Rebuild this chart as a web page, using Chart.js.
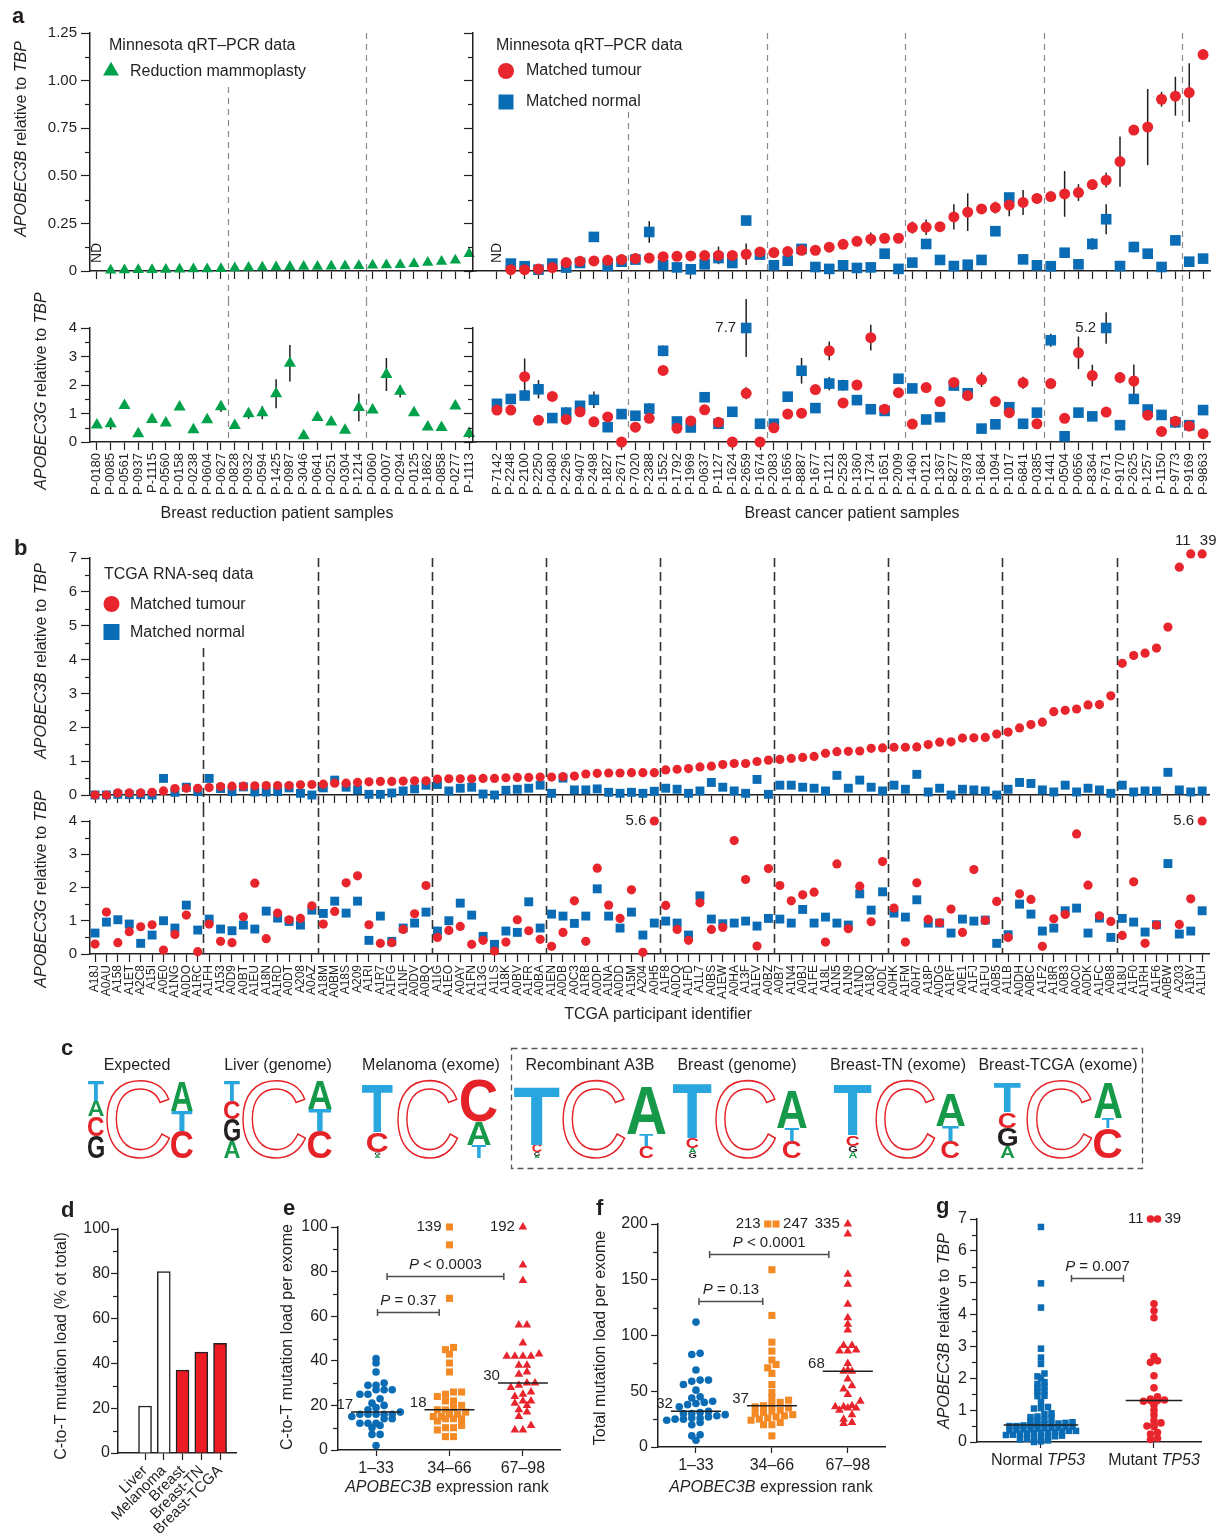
<!DOCTYPE html>
<html>
<head>
<meta charset="UTF-8">
<title>APOBEC3B expression and mutation load in breast cancer</title>
<style>
body { margin: 0; background: #fff; }
#page { position: relative; width: 1220px; height: 1539px; overflow: hidden; }
#page canvas { position: absolute; left: 0; top: 0; }
</style>
<script src="https://cdn.jsdelivr.net/npm/chart.js@4.4.1/dist/chart.umd.min.js"></script>
</head>
<body>
<div id="page">
<canvas id="aTopL" width="1220" height="1539"></canvas>
<canvas id="aTopR" width="1220" height="1539"></canvas>
<canvas id="aBotL" width="1220" height="1539"></canvas>
<canvas id="aBotR" width="1220" height="1539"></canvas>
<canvas id="bTop" width="1220" height="1539"></canvas>
<canvas id="bBot" width="1220" height="1539"></canvas>
<canvas id="cLogo" width="1220" height="1539"></canvas>
<canvas id="dBar" width="1220" height="1539"></canvas>
<canvas id="eDot" width="1220" height="1539"></canvas>
<canvas id="fDot" width="1220" height="1539"></canvas>
<canvas id="gDot" width="1220" height="1539"></canvas>
</div>
<script>
// ---- a: Minnesota qRT-PCR, reduction mammoplasty ----
const reductionIds = ["P-0180","P-0085","P-0561","P-0937","P-1115","P-0560","P-0158","P-0238","P-0604","P-0627",
  "P-0828","P-0932","P-0594","P-1425","P-0987","P-3046","P-0641","P-0251","P-0304","P-1214",
  "P-0060","P-0007","P-0294","P-0125","P-1862","P-0858","P-0277","P-1113"];
const reductionA3B = [null, 0.004, 0.005, 0.006, 0.007, 0.008, 0.009, 0.010, 0.011, 0.012,
  0.016, 0.018, 0.020, 0.021, 0.022, 0.023, 0.024, 0.025, 0.026, 0.027,
  0.030, 0.032, 0.033, 0.038, 0.044, 0.050, 0.056, 0.090];
const reductionA3G = [0.6, 0.64, 1.28, 0.29, 0.79, 0.67, 1.23, 0.43, 0.78, 1.24,
  0.58, 0.99, 1.03, 1.69, 2.76, 0.22, 0.86, 0.7, 0.41, 1.21,
  1.12, 2.37, 1.78, 1.03, 0.53, 0.51, 1.26, 0.3];
const reductionA3GErr = [0.05, 0.2, 0.08, 0, 0.06, 0, 0.06, 0, 0, 0.19,
  0, 0.18, 0.23, 0.51, 0.64, 0, 0.08, 0, 0, 0.48,
  0, 0.58, 0.22, 0, 0, 0, 0.08, 0.17];

// ---- a: Minnesota qRT-PCR, matched tumour / normal ----
const cancerIds = ["P-7142","P-2248","P-2100","P-2250","P-0480","P-2296","P-9407","P-2498","P-1827","P-2671",
  "P-7020","P-2388","P-1552","P-1792","P-1969","P-0637","P-1127","P-1624","P-2659","P-1674",
  "P-2083","P-1656","P-8887","P-1677","P-1121","P-2528","P-1360","P-1734","P-1651","P-2009",
  "P-1460","P-0121","P-1367","P-8277","P-9378","P-1684","P-1094","P-1017","P-6841","P-0385",
  "P-1441","P-0504","P-0656","P-8364","P-7671","P-9170","P-2625","P-1257","P-1150","P-9773",
  "P-9169","P-9863"];
const tumourA3B = [null, 0.007, 0.007, 0.01, 0.018, 0.044, 0.051, 0.053, 0.056, 0.06,
  0.065, 0.068, 0.075, 0.077, 0.079, 0.081, 0.082, 0.082, 0.088, 0.1,
  0.097, 0.102, 0.109, 0.109, 0.125, 0.14, 0.156, 0.167, 0.172, 0.172,
  0.228, 0.23, 0.233, 0.284, 0.309, 0.326, 0.333, 0.346, 0.36, 0.381,
  0.391, 0.405, 0.412, 0.454, 0.477, 0.575, 0.74, 0.756, 0.902, 0.918,
  0.937, 1.137];
const tumourA3BErr = [0, 0, 0, 0, 0, 0, 0, 0, 0, 0,
  0, 0, 0, 0, 0, 0, 0.046, 0, 0.057, 0,
  0, 0, 0, 0, 0, 0, 0, 0.035, 0, 0,
  0.032, 0.041, 0, 0.066, 0.099, 0, 0.031, 0.059, 0.066, 0.026,
  0, 0.12, 0.044, 0, 0.039, 0.132, 0, 0.2, 0.039, 0.102,
  0.154, 0];
const normalA3B = [null, 0.039, 0.025, 0.007, 0.039, 0.018, 0.042, 0.179, 0.026, 0.049,
  0.06, 0.205, 0.03, 0.019, 0.009, 0.035, 0.068, 0.042, 0.265, 0.086,
  0.03, 0.054, 0.116, 0.021, 0.011, 0.03, 0.016, 0.019, 0.091, 0.011,
  0.044, 0.142, 0.058, 0.026, 0.033, 0.058, 0.209, 0.386, 0.061, 0.03,
  0.025, 0.096, 0.035, 0.142, 0.272, 0.026, 0.126, 0.091, 0.021, 0.161,
  0.049, 0.065];
const normalA3BErr = [0, 0, 0, 0, 0, 0, 0, 0, 0, 0,
  0, 0.057, 0, 0, 0, 0, 0, 0, 0, 0,
  0, 0, 0, 0, 0, 0, 0, 0, 0, 0,
  0, 0, 0, 0, 0, 0, 0.019, 0, 0, 0,
  0, 0, 0, 0.031, 0.079, 0, 0.027, 0, 0, 0,
  0, 0];
const tumourA3G = [1.12, 1.12, 2.29, 0.76, 1.6, 0.79, 1.06, 0.71, 0.88, 0.0,
  0.52, 0.83, 2.51, 0.48, 0.74, 1.13, 0.69, 0.0, 1.71, 0.0,
  0.5, 0.98, 1.01, 1.84, 3.2, 1.37, 2.0, 3.66, 1.15, 1.73,
  0.63, 1.91, 1.42, 2.09, 1.63, 2.19, 1.42, 1.03, 2.08, 0.64,
  2.05, 0.83, 3.13, 2.33, 1.05, 2.26, 2.14, 0.94, 0.37, 0.73,
  0.56, 0.29];
const tumourA3GErr = [0, 0.12, 0.64, 0, 0, 0, 0, 0, 0, 0,
  0, 0, 0, 0, 0, 0, 0, 0, 0.21, 0,
  0, 0, 0, 0, 0.33, 0, 0, 0.45, 0, 0,
  0, 0, 0, 0.15, 0, 0.26, 0.17, 0, 0.21, 0,
  0, 0, 0.57, 0.38, 0, 0.2, 0.58, 0, 0, 0,
  0, 0];
const normalA3G = [1.34, 1.51, 1.63, 1.85, 0.84, 1.03, 1.27, 1.48, 0.52, 0.98,
  0.92, 1.17, 3.2, 0.72, 0.51, 1.57, 0.64, 1.06, 7.7, 0.64,
  0.64, 1.59, 2.5, 1.19, 2.05, 1.99, 1.47, 1.15, 1.09, 2.22,
  1.88, 0.79, 0.87, 1.98, 1.71, 0.47, 0.62, 1.22, 0.64, 1.03,
  3.57, 0.2, 1.03, 0.9, 5.2, 0.59, 1.51, 1.14, 0.95, 0.69,
  0.59, 1.12];
const normalA3GErr = [0, 0.1, 0, 0.32, 0, 0.19, 0, 0.29, 0, 0,
  0, 0.19, 0.19, 0, 0, 0, 0, 0, 1.02, 0,
  0, 0, 0.45, 0, 0.23, 0.19, 0, 0, 0, 0.16,
  0, 0, 0, 0, 0, 0, 0, 0, 0, 0,
  0.23, 0, 0, 0, 0.55, 0, 0.1, 0, 0, 0.19,
  0, 0];

// ---- b: TCGA RNA-seq ----
const tcgaIds = ["A18J","A0AU","A158","A1ET","A2C8","A15I","A0E0","A1NG","A0DO","A1RC",
  "A1FH","A153","A0D9","A0BT","A1EU","A18N","A1RD","A0DT","A208","A0AZ",
  "A18M","A0BM","A18S","A209","A1RI","A1R7","A1FG","A1NF","A0DV","A0BQ",
  "A1IG","A1EO","A0AY","A1FN","A13G","A1LS","A18K","A0BV","A1FR","A0BA",
  "A1EN","A0DB","A0C3","A1RB","A0DP","A1NA","A0DD","A15M","A204","A0H5",
  "A1F8","A0DQ","A1FD","A1L7","A0BS","A1EW","A0HA","A13F","A1EV","A0BZ",
  "A0B7","A1N4","A0BJ","A1FE","A18L","A1N5","A1N9","A1ND","A18Q","A0DL",
  "A0HK","A1FM","A0H7","A18P","A0DG","A1RF","A0E1","A1FJ","A1FU","A0B5",
  "A1LB","A0DH","A0BC","A1F2","A18R","A0B3","A0C0","A0DK","A1FC","A0B8",
  "A18U","A1F0","A1RH","A1F6","A0BW","A203","A18V","A1LH"];
const tcgaTumourA3B = [0.0, 0.0, 0.06, 0.06, 0.06, 0.08, 0.12, 0.19, 0.2, 0.2,
  0.22, 0.25, 0.26, 0.26, 0.27, 0.28, 0.28, 0.28, 0.3, 0.31,
  0.32, 0.35, 0.35, 0.37, 0.39, 0.4, 0.4, 0.41, 0.42, 0.42,
  0.47, 0.48, 0.48, 0.48, 0.49, 0.49, 0.51, 0.52, 0.52, 0.53,
  0.53, 0.54, 0.56, 0.62, 0.64, 0.65, 0.65, 0.66, 0.66, 0.66,
  0.74, 0.76, 0.78, 0.83, 0.85, 0.9, 0.93, 0.93, 0.99, 1.03,
  1.05, 1.08, 1.11, 1.14, 1.23, 1.28, 1.29, 1.3, 1.38, 1.39,
  1.41, 1.41, 1.42, 1.49, 1.56, 1.57, 1.68, 1.69, 1.7, 1.8,
  1.86, 1.98, 2.08, 2.15, 2.46, 2.5, 2.54, 2.66, 2.67, 2.93,
  3.89, 4.12, 4.19, 4.34, 4.96, 6.73, 11, 39];
const tcgaNormalA3B = [0, 0, 0.02, 0.01, 0.01, 0, 0.49, 0.08, 0.23, 0.1,
  0.49, 0.19, 0.1, 0.24, 0.09, 0.09, 0.1, 0.21, 0.05, 0,
  0.21, 0.44, 0.23, 0.15, 0.02, 0.02, 0.06, 0.12, 0.18, 0.29,
  0.31, 0.12, 0.2, 0.23, 0.03, 0, 0.14, 0.17, 0.2, 0.29,
  0.05, 0.5, 0.15, 0.15, 0.18, 0.08, 0.05, 0.08, 0.05, 0.11,
  0.2, 0.17, 0.05, 0.12, 0.37, 0.23, 0.12, 0.05, 0.46, 0.02,
  0.29, 0.29, 0.23, 0.2, 0.12, 0.58, 0.2, 0.44, 0.23, 0.12,
  0.29, 0.17, 0.61, 0.09, 0.2, 0, 0.17, 0.15, 0.12, 0,
  0.17, 0.37, 0.34, 0.15, 0.09, 0.29, 0.09, 0.2, 0.15, 0.05,
  0.29, 0.09, 0.12, 0.12, 0.67, 0.15, 0.09, 0.12];
const tcgaTumourA3G = [0.30, 1.26, 0.34, 0.67, 0.82, 0.88, 0.12, 0.59, 1.17, 0.07,
  0.9, 0.38, 0.34, 1.12, 2.13, 0.46, 1.23, 1.03, 1.07, 1.45,
  0.9, 1.28, 2.14, 2.35, 0.88, 0.32, 0.34, 0.74, 1.21, 2.06,
  0.5, 0.71, 0.83, 0.29, 0.41, 0.09, 0.36, 1.03, 0.7, 0.44,
  0.23, 0.65, 1.6, 0.38, 2.58, 1.47, 1.07, 1.93, 0.05, 5.6,
  1.46, 0.74, 0.41, 1.54, 0.74, 0.8, 3.41, 2.24, 0.24, 2.57,
  2.06, 1.6, 1.78, 1.86, 0.36, 2.71, 0.76, 2.04, 0.97, 2.78,
  1.38, 0.36, 2.14, 1.04, 0.94, 1.35, 0.65, 2.54, 1.01, 1.58,
  0.5, 1.81, 1.64, 0.23, 1.06, 1.19, 3.61, 2.07, 1.15, 0.98,
  0.56, 2.17, 0.32, 0.87, null, 0.89, 1.66, 5.6];
const tcgaNormalA3G = [0.63, 0.96, 1.03, 0.9, 0.32, 0.57, 1.0, 0.78, 1.47, 0.72,
  1.05, 0.75, 0.7, 0.87, 0.75, 1.29, 1.08, 0.98, 0.87, 1.32,
  1.22, 1.59, 1.23, 1.59, 0.41, 1.14, 0.38, 0.78, 0.93, 1.26,
  0.69, 1.0, 1.53, 1.17, 0.53, 0.29, 0.69, 0.65, 1.57, 0.78,
  1.2, 1.14, 0.92, 1.14, 1.96, 1.14, 0.78, 1.26, 0.57, 0.93,
  0.99, 0.93, 0.57, 1.75, 1.05, 0.91, 0.93, 0.99, 0.84, 1.07,
  1.05, 0.93, 1.34, 0.93, 1.11, 0.93, 0.87, 1.81, 1.32, 1.87,
  1.23, 1.11, 1.63, 0.93, 0.93, 0.63, 1.05, 0.99, 1.02, 0.32,
  0.58, 1.5, 1.2, 0.69, 0.78, 1.3, 1.38, 0.63, 1.08, 0.5,
  1.07, 0.96, 0.66, 0.88, 2.72, 0.6, 0.69, 1.3];

// ---- c: sequence logos (letter heights in bits, bottom to top) ----
const logoNames = ["Expected", "Liver (genome)", "Melanoma (exome)", "Recombinant A3B",
  "Breast (genome)", "Breast-TN (exome)", "Breast-TCGA (exome)"];
const logoBefore = [
  [["G", 0.55], ["C", 0.5], ["A", 0.38], ["T", 0.5]],
  [["A", 0.42], ["G", 0.55], ["C", 0.45], ["T", 0.5]],
  [["A", 0.07], ["G", 0.07], ["C", 0.5], ["T", 1.2]],
  [["A", 0.06], ["G", 0.08], ["C", 0.18], ["T", 1.45]],
  [["G", 0.12], ["A", 0.13], ["C", 0.25], ["T", 1.37]],
  [["A", 0.15], ["G", 0.15], ["C", 0.27], ["T", 1.25]],
  [["A", 0.3], ["G", 0.45], ["C", 0.4], ["T", 0.73]]
];
const logoAfter = [
  [["C", 0.68], ["T", 0.5], ["A", 0.75]],
  [["C", 0.68], ["T", 0.55], ["A", 0.7]],
  [["T", 0.32], ["A", 0.58], ["C", 1.05]],
  [["C", 0.3], ["T", 0.3], ["A", 1.2]],
  [["C", 0.42], ["T", 0.32], ["A", 0.95]],
  [["C", 0.42], ["T", 0.38], ["A", 0.8]],
  [["C", 0.75], ["T", 0.25], ["A", 0.88]]
];
const logoCentre = [1.95, 1.95, 1.95, 1.95, 1.95, 1.95, 1.95];

// ---- d: C-to-T share of all mutations ----
const cohorts = ["Liver", "Melanoma", "Breast", "Breast-TN", "Breast-TCGA"];
const cToTShare = [21, 81, 37, 45, 49];

// ---- e, f: mutation load by APOBEC3B expression rank ----
const rankGroups = ["1–33", "34–66", "67–98"];
const cToTLow = [41, 39, 35, 30, 29, 29, 27, 27, 27, 25, 25, 23, 21, 20, 19, 18, 17,
  16, 16, 16, 16, 16, 15, 14, 14, 12, 12, 12, 11, 10, 7, 7, 2];
const cToTMid = [139, 92, 68, 46, 45, 43, 39, 35, 26, 26, 25, 24, 22, 22, 20, 19, 18,
  18, 17, 16, 16, 15, 15, 14, 14, 14, 13, 11, 10, 10, 9, 6, 6];
const cToTHigh = [192, 83, 76, 56, 56, 48, 43, 42, 42, 42, 42, 38, 38, 35, 34, 30, 30,
  29, 28, 26, 25, 24, 22, 22, 21, 20, 18, 17, 15, 11, 9, 9];
const totalLow = [112, 84, 83, 69, 60, 60, 59, 56, 51, 45, 44, 41, 40, 39, 38, 36, 32,
  31, 30, 30, 29, 28, 27, 26, 26, 25, 25, 24, 22, 20, 11, 10, 6];
const totalMid = [247, 213, 159, 118, 94, 86, 78, 74, 71, 66, 56, 49, 44, 42, 40, 38, 37,
  36, 35, 33, 32, 31, 30, 29, 28, 27, 26, 25, 24, 22, 20, 20, 10];
const totalHigh = [335, 191, 155, 146, 128, 116, 110, 105, 91, 91, 87, 86, 86, 75, 69, 68, 68,
  61, 55, 52, 47, 41, 37, 36, 36, 35, 35, 33, 29, 25, 22, 21];

// ---- g: APOBEC3B by TP53 status ----
const tp53Normal = [6.75, 4.98, 4.22, 2.93, 2.65, 2.45, 2.15, 2.06, 2.0, 1.88,
  1.82, 1.75, 1.7, 1.6, 1.58, 1.45, 1.44, 1.25, 1.1, 1.06,
  1.05, 0.9, 0.88, 0.8, 0.78, 0.75, 0.7, 0.68, 0.65, 0.62,
  0.6, 0.58, 0.56, 0.55, 0.54, 0.53, 0.52, 0.5, 0.5, 0.48,
  0.47, 0.45, 0.45, 0.44, 0.42, 0.4, 0.4, 0.38, 0.36, 0.35,
  0.35, 0.33, 0.32, 0.3, 0.3, 0.28, 0.26, 0.25, 0.23, 0.22,
  0.2, 0.18, 0.15, 0.12, 0.1, 0.1, 0.08, 0.05, 0.02, 0.0];
const tp53Mutant = [11, 39, 4.34, 4.12, 3.9, 2.68, 2.55, 2.5, 2.08, 1.7,
  1.42, 1.35, 1.32, 1.3, 1.3, 1.28, 1.15, 1.0, 0.85, 0.68,
  0.6, 0.55, 0.5, 0.48, 0.3, 0.25, 0.12, 0.08];

// ---------------------------------------------------------------
const W = 1220, H = 1539;
const YW = 60, XH = 80;   // room kept for tick labels beside / below each plot box
const ink = "#231f20";
const red = "#e8252c", blue = "#0a6cb4", green = "#00a14b", orange = "#f48a26", barRed = "#ed1c24";
const family = "'Liberation Sans', Arial, Helvetica, sans-serif";

Chart.defaults.font.family = family;
Chart.defaults.font.size = 15;
Chart.defaults.color = ink;
Chart.defaults.animation = false;
Chart.defaults.responsive = false;
Chart.defaults.plugins.legend.display = false;
Chart.defaults.plugins.tooltip.enabled = false;

// every canvas covers the whole page, so plot boxes are given in page pixels
function pad(l, t, r, b, bare) {
  return bare ? {left: l, top: t, right: W - r, bottom: H - b}
              : {left: l - YW, top: t, right: W - r, bottom: H - b - XH};
}
function fixX(s) { s.height = XH; s.paddingLeft = 0; s.paddingRight = 0; }
function fixY(s) { s.width = YW; s.paddingTop = 0; s.paddingBottom = 0; }

function slotAxis(min, max, ids, show, size) {
  return {
    type: "linear", position: "bottom", min, max,
    afterBuildTicks: s => { s.ticks = ids.map((_, i) => ({value: i})); },
    afterFit: fixX,
    ticks: {autoSkip: false, minRotation: 90, maxRotation: 90, padding: 3, font: {size},
      color: ink, callback: v => show ? ids[v] : ""},
    grid: {drawOnChartArea: false, tickLength: 8, tickColor: ink, tickWidth: 1.2},
    border: {color: ink, width: 1.5}
  };
}
function groupAxis(min, max, names, opt = {}) {
  return {
    type: "linear", position: "bottom", min, max, offset: false,
    afterBuildTicks: s => { s.ticks = names.map((_, i) => ({value: i + 1})); },
    afterFit: fixX,
    ticks: {autoSkip: false, minRotation: opt.rot || 0, maxRotation: opt.rot || 0, padding: opt.padding || 3,
      font: {size: opt.size || 16}, color: ink, callback: v => names[v - 1]},
    grid: {drawOnChartArea: false, offset: false, tickLength: opt.tick || 6, tickColor: ink, tickWidth: 1.2},
    border: {color: ink, width: 1.5}
  };
}
function valueAxis(max, step, fmt, opt = {}) {
  return {
    type: "linear", min: 0, max, afterFit: fixY,
    ticks: {stepSize: step, padding: opt.padding ?? 4, font: {size: opt.size || 15}, color: ink,
      callback: v => fmt ? fmt(v) : ""},
    grid: {drawOnChartArea: false, tickLength: opt.tick || 9, tickColor: ink, tickWidth: 1.2},
    border: {color: ink, width: 1.5}
  };
}
const twoDp = v => v === 0 ? "0" : v.toFixed(2);
const plain = v => String(v);

function slots(values, errs, cap) {
  const pts = [];
  values.forEach((v, i) => {
    if (v == null) return;
    pts.push({x: i, y: cap == null ? v : Math.min(v, cap), raw: v, err: errs ? errs[i] : 0});
  });
  return pts;
}
// column scatter: values that share a row are spread sideways around the group centre
function swarm(values, centre, cap, bin, step) {
  const rows = new Map();
  values.forEach(v => {
    const k = Math.round(Math.min(v, cap) / bin);
    if (!rows.has(k)) rows.set(k, []);
    rows.get(k).push(v);
  });
  const pts = [];
  rows.forEach(row => {
    row.sort((a, b) => a - b);
    row.forEach((v, j) => pts.push({x: centre + (j - (row.length - 1) / 2) * step, y: Math.min(v, cap), raw: v}));
  });
  return pts;
}
function pointSet(data, style, r, color, extra) {
  return Object.assign({data, pointStyle: style, pointRadius: r, pointHoverRadius: r,
    backgroundColor: color, borderWidth: 0, clip: false, showLine: false}, extra || {});
}
function median(arr) {
  const s = arr.slice().sort((a, b) => a - b), n = s.length;
  return n % 2 ? s[(n - 1) / 2] : (s[n / 2 - 1] + s[n / 2]) / 2;
}

function rich(ctx, t) {
  const size = t.size || 16;
  const parts = t.parts || [[t.text, false]];
  const fontOf = it => `${it ? "italic " : ""}${t.bold ? "bold " : ""}${size}px ${family}`;
  let total = 0;
  const widths = parts.map(([s, it]) => { ctx.font = fontOf(it); const w = ctx.measureText(s).width; total += w; return w; });
  ctx.save();
  ctx.translate(t.x, t.y);
  if (t.rot) ctx.rotate(t.rot * Math.PI / 180);
  ctx.fillStyle = t.color || ink;
  ctx.textBaseline = t.base || "middle";
  ctx.textAlign = "left";
  let x = t.align === "left" ? 0 : t.align === "right" ? -total : -total / 2;
  parts.forEach(([s, it], i) => { ctx.font = fontOf(it); ctx.fillText(s, x, 0); x += widths[i]; });
  ctx.restore();
}
function shape(ctx, kind, x, y, r, color) {
  ctx.fillStyle = color;
  ctx.beginPath();
  if (kind === "circle") ctx.arc(x, y, r, 0, Math.PI * 2);
  else if (kind === "rect") ctx.rect(x - r, y - r, 2 * r, 2 * r);
  else { ctx.moveTo(x, y - r); ctx.lineTo(x + r * 0.866, y + r / 2); ctx.lineTo(x - r * 0.866, y + r / 2); ctx.closePath(); }
  ctx.fill();
}

// logo letters are text glyphs stretched into the box the y scale gives them
const letterInk = {T: "#29a6de", A: "#17994a", C: "#e52228", G: ink};
function glyph(ctx, ch, x0, x1, yTop, yBot, color, outline) {
  ctx.save();
  ctx.font = (outline ? "" : "bold ") + "100px " + family;
  ctx.textAlign = "left";
  ctx.textBaseline = "alphabetic";
  const m = ctx.measureText(ch);
  const gw = m.actualBoundingBoxLeft + m.actualBoundingBoxRight;
  const gh = m.actualBoundingBoxAscent + m.actualBoundingBoxDescent;
  const sx = (x1 - x0) / gw, sy = (yBot - yTop) / gh;
  ctx.translate(x0, yBot);
  ctx.scale(sx, sy);
  const ox = m.actualBoundingBoxLeft, oy = -m.actualBoundingBoxDescent;
  if (outline) { ctx.strokeStyle = color; ctx.lineWidth = 1.4 / Math.min(sx, sy); ctx.strokeText(ch, ox, oy); }
  else { ctx.fillStyle = color; ctx.fillText(ch, ox, oy); }
  ctx.restore();
}
function stack(chart, letters, span) {
  const xs = chart.scales.x, ys = chart.scales.y;
  const x0 = xs.getPixelForValue(span[0]), x1 = xs.getPixelForValue(span[1]);
  const cx = (x0 + x1) / 2, colW = x1 - x0;
  let base = 0;
  letters.forEach(([ch, h]) => {
    const yBot = ys.getPixelForValue(base), yTop = ys.getPixelForValue(base + h);
    const w = Math.min(colW, (yBot - yTop) * 0.9 + 3);
    glyph(chart.ctx, ch, cx - w / 2, cx + w / 2, yTop, yBot, letterInk[ch], false);
    base += h;
  });
}

const extras = {};
const figure = {
  id: "figure",
  beforeDatasetsDraw(chart) {
    const ex = extras[chart.canvas.id] || {};
    const ctx = chart.ctx, xs = chart.scales.x, ys = chart.scales.y;
    ctx.save();
    if (ex.dividers) {
      const d = ex.dividers;
      ctx.strokeStyle = d.color; ctx.lineWidth = d.width; ctx.setLineDash(d.dash);
      d.at.forEach((v, i) => {
        const x = Math.round(xs.getPixelForValue(v)) + 0.5;
        ctx.beginPath(); ctx.moveTo(x, d.tops[i]); ctx.lineTo(x, d.bottom); ctx.stroke();
      });
      ctx.setLineDash([]);
    }
    ctx.strokeStyle = ink; ctx.lineWidth = 1.5;
    chart.data.datasets.forEach((ds, di) => {
      const meta = chart.getDatasetMeta(di);
      ds.data.forEach((p, j) => {
        if (!p || !p.err) return;
        const el = meta.data[j];
        ctx.beginPath();
        ctx.moveTo(el.x, ys.getPixelForValue(p.y + p.err));
        ctx.lineTo(el.x, ys.getPixelForValue(p.y - p.err));
        ctx.stroke();
      });
    });
    ctx.restore();
  },
  afterDatasetsDraw(chart) {
    const ex = extras[chart.canvas.id] || {};
    const ctx = chart.ctx, xs = chart.scales.x, ys = chart.scales.y, area = chart.chartArea;
    ctx.save();
    if (ex.minor) {
      const major = ys.options.ticks.stepSize;
      ctx.strokeStyle = ink; ctx.lineWidth = 1.2;
      for (let v = ys.min; v <= ys.max + 1e-9; v += ex.minor) {
        const q = v / major;
        if (Math.abs(q - Math.round(q)) < 1e-6) continue;
        const y = Math.round(ys.getPixelForValue(v)) + 0.5;
        ctx.beginPath(); ctx.moveTo(area.left - 5, y); ctx.lineTo(area.left, y); ctx.stroke();
      }
    }
    (ex.medians || []).forEach(m => {
      const v = median(m.values);
      const y = ys.getPixelForValue(v);
      const x1 = xs.getPixelForValue(m.x - m.half), x2 = xs.getPixelForValue(m.x + m.half);
      ctx.strokeStyle = ink; ctx.lineWidth = 1.5;
      ctx.beginPath(); ctx.moveTo(x1, y); ctx.lineTo(x2, y); ctx.stroke();
      if (m.label) rich(ctx, {x: x1 + 2, y: y - 7, text: String(Math.round(v)), size: 15, align: "right"});
    });
    (ex.brackets || []).forEach(b => {
      const x1 = xs.getPixelForValue(b.from), x2 = xs.getPixelForValue(b.to);
      const y = Math.round(ys.getPixelForValue(b.y)) + 0.5;
      ctx.strokeStyle = "#4d4d4f"; ctx.lineWidth = 1.5;
      ctx.beginPath();
      ctx.moveTo(x1, y); ctx.lineTo(x2, y);
      ctx.moveTo(x1, y - 3.5); ctx.lineTo(x1, y + 3.5);
      ctx.moveTo(x2, y - 3.5); ctx.lineTo(x2, y + 3.5);
      ctx.stroke();
      rich(ctx, {x: (x1 + x2) / 2, y: y - 12, parts: b.parts, size: 15});
    });
    // values beyond the axis are pinned to its end and keep their number beside the mark
    chart.data.datasets.forEach((ds, di) => {
      if (!ds.capText) return;
      const meta = chart.getDatasetMeta(di);
      let n = 0;
      ds.data.forEach((p, j) => {
        if (!(p.raw > p.y)) return;
        const el = meta.data[j];
        const shift = ds.capShift ? (ds.capShift[n] || 0) : 0;
        n++;
        let side = ds.capText;
        if (side === "auto") side = p.x > ds.centre + 1e-6 ? "right" : "left";
        const g = ds.capGap || 8;
        const label = String(p.raw);
        if (side === "above") rich(ctx, {x: el.x + shift, y: el.y - 13, text: label, size: 15});
        else if (side === "left") rich(ctx, {x: el.x - g, y: el.y, text: label, size: 15, align: "right"});
        else rich(ctx, {x: el.x + g, y: el.y, text: label, size: 15, align: "left"});
      });
    });
    if (ex.logos) {
      ex.logos.spans.forEach((sp, i) => {
        stack(chart, logoBefore[i], sp[0]);
        const x0 = xs.getPixelForValue(sp[1][0]), x1 = xs.getPixelForValue(sp[1][1]);
        glyph(ctx, "C", x0, x1, ys.getPixelForValue(logoCentre[i]), ys.getPixelForValue(0), letterInk.C, true);
        stack(chart, logoAfter[i], sp[2]);
      });
      const b = ex.logos.box;
      ctx.strokeStyle = "#555"; ctx.lineWidth = 1.3; ctx.setLineDash([6, 4]);
      ctx.strokeRect(b[0] + 0.5, b[1] + 0.5, b[2] - b[0], b[3] - b[1]);
      ctx.setLineDash([]);
    }
    (ex.keys || []).forEach(k => shape(ctx, k.shape, k.x, k.y, k.r, k.color));
    (ex.texts || []).forEach(t => rich(ctx, t));
    ctx.restore();
  }
};
Chart.register(figure);

function make(id, box, scales, datasets, type, bare) {
  return new Chart(document.getElementById(id), {
    type: type || "scatter",
    data: {datasets},
    options: {events: [], devicePixelRatio: 1,
      layout: {autoPadding: false, padding: pad(box[0], box[1], box[2], box[3], bare)}, scales}
  });
}

const a3b = [["APOBEC3B", true], [" relative to ", false], ["TBP", true]];
const a3g = [["APOBEC3G", true], [" relative to ", false], ["TBP", true]];
const aDash = {color: "#8a8a8a", width: 1.2, dash: [6, 5]};
const bDash = {color: "#333", width: 1.6, dash: [9, 5]};

// ---- a, top row ----
extras.aTopL = {
  minor: 0.125,
  dividers: Object.assign({at: [9.5, 19.5], tops: [87, 33], bottom: 300}, aDash),
  keys: [{shape: "triangle", x: 111, y: 71, r: 9.2, color: green}],
  texts: [
    {x: 12, y: 23, text: "a", bold: true, size: 22, align: "left", base: "alphabetic"},
    {x: 22, y: 139, parts: a3b, rot: -90},
    {x: 109, y: 46, text: "Minnesota qRT–PCR data", align: "left"},
    {x: 130, y: 72, text: "Reduction mammoplasty", align: "left"},
    {x: 97, y: 253, text: "ND", size: 14, rot: -90}
  ]
};
make("aTopL", [90, 33, 476, 271],
  {x: slotAxis(-0.5, 27.5, reductionIds, false, 13), y: valueAxis(1.25, 0.25, twoDp)},
  [pointSet(slots(reductionA3B), "triangle", 6.5, green)]);

extras.aTopR = {
  minor: 0.125,
  dividers: Object.assign({at: [9.5, 19.5, 29.5, 39.5, 49.5], tops: [112, 33, 33, 33, 33], bottom: 300}, aDash),
  keys: [{shape: "circle", x: 506, y: 71, r: 8, color: red}, {shape: "rect", x: 506, y: 102, r: 7.5, color: blue}],
  texts: [
    {x: 496, y: 46, text: "Minnesota qRT–PCR data", align: "left"},
    {x: 526, y: 71, text: "Matched tumour", align: "left"},
    {x: 526, y: 102, text: "Matched normal", align: "left"},
    {x: 497, y: 253, text: "ND", size: 14, rot: -90}
  ]
};
make("aTopR", [473, 33, 1210, 271],
  {x: slotAxis(-1.73, 51.5, cancerIds, false, 13), y: valueAxis(1.25, 0.25, null)},
  [pointSet(slots(tumourA3B, tumourA3BErr), "circle", 5.5, red),
   pointSet(slots(normalA3B, normalA3BErr), "rect", 7.5, blue)]);

// ---- a, bottom row ----
extras.aBotL = {
  minor: 0.5,
  dividers: Object.assign({at: [9.5, 19.5], tops: [300, 300], bottom: 442}, aDash),
  texts: [
    {x: 42, y: 391, parts: a3g, rot: -90},
    {x: 277, y: 514, text: "Breast reduction patient samples"}
  ]
};
make("aBotL", [90, 328, 476, 442],
  {x: slotAxis(-0.5, 27.5, reductionIds, true, 13), y: valueAxis(4, 1, plain)},
  [pointSet(slots(reductionA3G, reductionA3GErr), "triangle", 7, green)]);

extras.aBotR = {
  minor: 0.5,
  dividers: Object.assign({at: [9.5, 19.5, 29.5, 39.5, 49.5], tops: [300, 300, 300, 300, 300], bottom: 442}, aDash),
  texts: [{x: 852, y: 514, text: "Breast cancer patient samples"}]
};
make("aBotR", [473, 328, 1210, 442],
  {x: slotAxis(-1.73, 51.5, cancerIds, true, 13), y: valueAxis(4, 1, null)},
  [pointSet(slots(tumourA3G, tumourA3GErr), "circle", 5.5, red),
   pointSet(slots(normalA3G, normalA3GErr, 4), "rect", 7.5, blue, {capText: "left", capGap: 10})]);

// ---- b ----
const bCuts = [9.5, 19.5, 29.5, 39.5, 49.5, 59.5, 69.5, 79.5, 89.5];
extras.bTop = {
  minor: 0.5,
  dividers: Object.assign({at: bCuts, tops: [648, 558, 558, 558, 558, 558, 558, 558, 558], bottom: 808}, bDash),
  keys: [{shape: "circle", x: 111.5, y: 604, r: 8, color: red}, {shape: "rect", x: 111.5, y: 632, r: 8, color: blue}],
  texts: [
    {x: 14, y: 555, text: "b", bold: true, size: 22, align: "left", base: "alphabetic"},
    {x: 42, y: 661, parts: a3b, rot: -90},
    {x: 104, y: 575, text: "TCGA RNA-seq data", align: "left"},
    {x: 130, y: 605, text: "Matched tumour", align: "left"},
    {x: 130, y: 633, text: "Matched normal", align: "left"}
  ]
};
make("bTop", [90, 558, 1209, 795],
  {x: slotAxis(-0.44, 97.6, tcgaIds, false, 12), y: valueAxis(7, 1, plain)},
  [pointSet(slots(tcgaTumourA3B, null, 7.12), "circle", 4.6, red, {capText: "above", capShift: [-8, 6]}),
   pointSet(slots(tcgaNormalA3B), "rect", 6.3, blue)]);

extras.bBot = {
  minor: 0.5,
  dividers: Object.assign({at: bCuts, tops: bCuts.map(() => 808), bottom: 954}, bDash),
  texts: [
    {x: 42, y: 889, parts: a3g, rot: -90},
    {x: 658, y: 1015, text: "TCGA participant identifier"}
  ]
};
make("bBot", [90, 821, 1209, 954],
  {x: slotAxis(-0.44, 97.6, tcgaIds, true, 12), y: valueAxis(4, 1, plain)},
  [pointSet(slots(tcgaTumourA3G, null, 4), "circle", 4.6, red, {capText: "left", capGap: 8}),
   pointSet(slots(tcgaNormalA3G), "rect", 6.3, blue)]);

// ---- c ----
const logoTitleX = [137, 278, 431, 590, 737, 898, 1058];
extras.cLogo = {
  logos: {
    spans: [
      [[88, 104], [107, 170], [171, 193]],
      [[224, 240], [243, 306], [308, 332]],
      [[362, 393], [398, 458], [461, 497]],
      [[514, 560], [563, 625], [627, 666]],
      [[673, 712], [716, 776], [777, 807]],
      [[834, 872], [876, 935], [936, 965]],
      [[994, 1021], [1027, 1092], [1094, 1122]]
    ],
    box: [511, 1048, 1142, 1168]
  },
  texts: [{x: 61, y: 1055, text: "c", bold: true, size: 22, align: "left", base: "alphabetic"}]
    .concat(logoNames.map((n, i) => ({x: logoTitleX[i], y: 1066, text: n})))
};
make("cLogo", [0, 1078, 1220, 1158],
  {x: {type: "linear", min: 0, max: W, display: false}, y: {type: "linear", min: 0, max: 2, display: false}},
  [], "scatter", true);

// ---- d ----
extras.dBar = {
  minor: 10,
  texts: [
    {x: 61, y: 1217, text: "d", bold: true, size: 22, align: "left", base: "alphabetic"},
    {x: 62, y: 1346, text: "C-to-T mutation load (% ot total)", rot: -90}
  ]
};
make("dBar", [118, 1229, 236, 1453],
  {x: groupAxis(-0.44, 5.85, cohorts, {rot: 45, size: 15, tick: 7, padding: 2}),
   y: valueAxis(100, 20, plain, {size: 16, tick: 7, padding: 1})},
  [{data: cToTShare.map((v, i) => ({x: i + 1, y: v})),
    backgroundColor: ["#ffffff", "#ffffff", barRed, barRed, barRed],
    borderColor: ink, borderWidth: 1.5, barThickness: 13}], "bar");

// ---- e ----
extras.eDot = {
  minor: 10,
  medians: [{x: 1, values: cToTLow, half: 0.34, label: true},
            {x: 2, values: cToTMid, half: 0.34, label: true},
            {x: 3, values: cToTHigh, half: 0.34, label: true}],
  brackets: [{from: 1.02, to: 1.86, y: 62, parts: [["P", true], [" = 0.37", false]]},
             {from: 1.15, to: 2.74, y: 78.2, parts: [["P", true], [" < 0.0003", false]]}],
  texts: [
    {x: 283, y: 1215, text: "e", bold: true, size: 22, align: "left", base: "alphabetic"},
    {x: 288, y: 1337, text: "C-to-T mutation load per exome", rot: -90},
    {x: 447, y: 1488, parts: [["APOBEC3B", true], [" expression rank", false]]}
  ]
};
make("eDot", [338, 1227, 560, 1450],
  {x: groupAxis(0.482, 3.505, rankGroups), y: valueAxis(100, 20, plain, {size: 16, tick: 7, padding: 3})},
  [pointSet(swarm(cToTLow, 1, 100, 3.2, 0.11), "circle", 3.8, blue, {centre: 1, capText: "auto"}),
   pointSet(swarm(cToTMid, 2, 100, 3.2, 0.11), "rect", 5, orange, {centre: 2, capText: "auto"}),
   pointSet(swarm(cToTHigh, 3, 100, 3.2, 0.11), "triangle", 5, red, {centre: 3, capText: "auto"})]);

// ---- f ----
extras.fDot = {
  minor: 25,
  medians: [{x: 1, values: totalLow, half: 0.33, label: true},
            {x: 2, values: totalMid, half: 0.33, label: true},
            {x: 3, values: totalHigh, half: 0.33, label: true}],
  brackets: [{from: 1.04, to: 1.88, y: 131, parts: [["P", true], [" = 0.13", false]]},
             {from: 1.18, to: 2.75, y: 172.8, parts: [["P", true], [" < 0.0001", false]]}],
  texts: [
    {x: 596, y: 1215, text: "f", bold: true, size: 22, align: "left", base: "alphabetic"},
    {x: 601, y: 1338, text: "Total mutation load per exome", rot: -90},
    {x: 771, y: 1488, parts: [["APOBEC3B", true], [" expression rank", false]]}
  ]
};
make("fDot", [658, 1224, 885, 1447],
  {x: groupAxis(0.5, 3.49, rankGroups), y: valueAxis(200, 50, plain, {size: 16, tick: 7, padding: 3})},
  [pointSet(swarm(totalLow, 1, 200, 6.5, 0.11), "circle", 3.8, blue, {centre: 1, capText: "auto"}),
   pointSet(swarm(totalMid, 2, 200, 6.5, 0.11), "rect", 5, orange, {centre: 2, capText: "auto", capGap: 7}),
   pointSet(swarm(totalHigh, 3, 200, 6.5, 0.11), "triangle", 5, red, {centre: 3, capText: "auto"})]);

// ---- g ----
extras.gDot = {
  minor: 0.5,
  medians: [{x: 1, values: tp53Normal, half: 0.33}, {x: 2, values: tp53Mutant, half: 0.25}],
  brackets: [{from: 1.27, to: 1.73, y: 5.15, parts: [["P", true], [" = 0.007", false]]}],
  texts: [
    {x: 936, y: 1213, text: "g", bold: true, size: 22, align: "left", base: "alphabetic"},
    {x: 945, y: 1331, parts: a3b, rot: -90},
    {x: 1038, y: 1461, parts: [["Normal ", false], ["TP53", true]]},
    {x: 1154, y: 1461, parts: [["Mutant ", false], ["TP53", true]]}
  ]
};
make("gDot", [977, 1219, 1201, 1442],
  {x: groupAxis(0.434, 2.416, ["", ""]), y: valueAxis(7, 1, plain, {size: 16, tick: 7, padding: 3})},
  [pointSet(swarm(tp53Normal, 1, 7, 0.14, 0.062), "rect", 4.6, blue, {centre: 1, capText: "auto"}),
   pointSet(swarm(tp53Mutant, 2, 7, 0.14, 0.062), "circle", 3.8, red, {centre: 2, capText: "auto", capGap: 7})]);
</script>
</body>
</html>
